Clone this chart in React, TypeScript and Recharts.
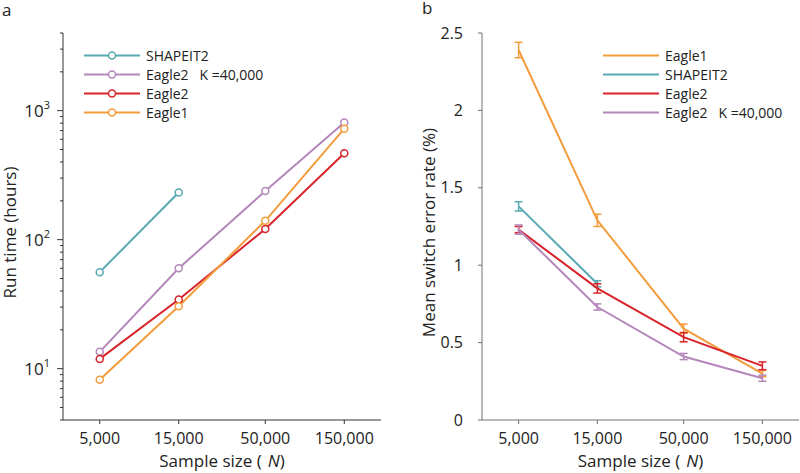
import React from "react";
import { LineChart, Line, XAxis, YAxis, ErrorBar, Legend } from "recharts";

// sample sizes shared by both panels (log x axis)
const sampleSizes = [5000, 15000, 50000, 150000];

// panel a: run time (hours)
const shapeit2Time = [56, 232];
const eagle2KTime = [13.5, 60, 238, 810];
const eagle2Time = [11.9, 34.4, 121, 468];
const eagle1Time = [8.2, 30.5, 140, 725];

// panel b: mean switch error rate (%) and error bar half-widths
const eagle1Err = [2.39, 1.29, 0.59, 0.3];
const eagle1ErrBar = [0.05, 0.04, 0.03, 0.02];
const shapeit2Err = [1.38, 0.88];
const shapeit2ErrBar = [0.03, 0.02];
const eagle2Err = [1.23, 0.85, 0.535, 0.35];
const eagle2ErrBar = [0.02, 0.03, 0.03, 0.025];
const eagle2KErr = [1.23, 0.73, 0.41, 0.27];
const eagle2KErrBar = [0.03, 0.02, 0.02, 0.02];

const logTicksA = [
  4, 5, 6, 7, 8, 9, 10, 20, 30, 40, 50, 60, 70, 80, 90, 100, 200, 300, 400, 500, 600, 700, 800,
  900, 1000, 2000, 3000, 4000,
];
const errTicks = [0, 0.5, 1, 1.5, 2, 2.5];

const TEAL = "#58a9b3";
const PURPLE = "#b487bb";
const RED = "#d8232b";
const ORANGE = "#f39c3c";

const toRows = (vals: number[], errs?: number[]) =>
  vals.map((v, i) => ({ n: sampleSizes[i], v, e: errs ? errs[i] : undefined }));

const seriesA = [
  { key: "shapeit2", label: "SHAPEIT2", color: TEAL, rows: toRows(shapeit2Time) },
  { key: "eagle2k", label: "Eagle2   K =40,000", color: PURPLE, rows: toRows(eagle2KTime) },
  { key: "eagle2", label: "Eagle2", color: RED, rows: toRows(eagle2Time) },
  { key: "eagle1", label: "Eagle1", color: ORANGE, rows: toRows(eagle1Time) },
];

const seriesB = [
  { key: "eagle1", label: "Eagle1", color: ORANGE, rows: toRows(eagle1Err, eagle1ErrBar) },
  { key: "shapeit2", label: "SHAPEIT2", color: TEAL, rows: toRows(shapeit2Err, shapeit2ErrBar) },
  { key: "eagle2", label: "Eagle2", color: RED, rows: toRows(eagle2Err, eagle2ErrBar) },
  { key: "eagle2k", label: "Eagle2   K =40,000", color: PURPLE, rows: toRows(eagle2KErr, eagle2KErrBar) },
];

const fmtN = (v: number) => v.toLocaleString("en-US");

function LogTick(props: any) {
  const { x, y, payload } = props;
  const exp = Math.log10(payload.value);
  const major = Math.abs(exp - Math.round(exp)) < 1e-9;
  return (
    <g>
      <line x1={x} x2={x - (major ? 6 : 3)} y1={y} y2={y} stroke="#333" strokeWidth={1} />
      {major && (
        <text x={x - 13} y={y + 6} textAnchor="end" fontSize={17} fill="#222">
          10
          <tspan dy={-8} fontSize={11}>
            {Math.round(exp)}
          </tspan>
        </text>
      )}
    </g>
  );
}

function LegendBox({ series, markers }: { series: typeof seriesA; markers: boolean }) {
  return (
    <div style={{ display: "flex", flexDirection: "column" }}>
      {series.map((s) => (
        <div key={s.key} style={{ height: 19, display: "flex", alignItems: "center" }}>
          <svg width={62} height={19}>
            <line x1={0} x2={56} y1={9.5} y2={9.5} stroke={s.color} strokeWidth={2} />
            {markers && (
              <circle cx={28} cy={9.5} r={3.5} fill="#fff" stroke={s.color} strokeWidth={1.5} />
            )}
          </svg>
          <span style={{ fontSize: 14, whiteSpace: "pre", color: "#222", lineHeight: "19px" }}>
            {s.label}
          </span>
        </div>
      ))}
    </div>
  );
}

function XLabel({ viewBox }: any) {
  return (
    <text x={viewBox.x + viewBox.width / 2} y={viewBox.y + 47} textAnchor="middle" fontSize={17} fill="#222">
      Sample size (
      <tspan dx={6} fontStyle="italic">
        N
      </tspan>
      )
    </text>
  );
}

function YLabel({ viewBox, value, dx }: any) {
  const cx = viewBox.x + dx;
  const cy = viewBox.y + viewBox.height / 2 + 6;
  return (
    <text x={cx} y={cy} transform={`rotate(-90, ${cx}, ${cy})`} textAnchor="middle" fontSize={17} fill="#222">
      {value}
    </text>
  );
}

export default function App() {
  return (
    <div
      style={{
        position: "absolute",
        left: 0,
        top: 0,
        width: 800,
        height: 473,
        background: "#fff",
        fontFamily: "'Open Sans', sans-serif",
        overflow: "hidden",
      }}
    >
      <div style={{ position: "absolute", left: 2, top: 1, fontSize: 17, lineHeight: "17px", color: "#222" }}>a</div>
      <div style={{ position: "absolute", left: 422, top: -1, fontSize: 17, lineHeight: "17px", color: "#222" }}>b</div>

      <div style={{ position: "absolute", left: 0, top: 0 }}>
        <LineChart width={400} height={473} margin={{ top: 33, right: 19, left: 0, bottom: 0 }}>
          <XAxis
            dataKey="n"
            type="number"
            scale="log"
            domain={[3000, 250000]}
            allowDataOverflow
            ticks={sampleSizes}
            tickFormatter={fmtN}
            height={53}
            tickSize={4}
            tickMargin={9}
            axisLine={{ stroke: "#333" }}
            tickLine={{ stroke: "#333" }}
            tick={{ fontSize: 16, fill: "#222" }}
            label={<XLabel />}
          />
          <YAxis
            type="number"
            scale="log"
            domain={[4, 4000]}
            allowDataOverflow
            ticks={logTicksA}
            interval={0}
            width={63}
            tickSize={0}
            tickMargin={0}
            tickLine={false}
            axisLine={{ stroke: "#333" }}
            tick={<LogTick />}
            label={<YLabel value="Run time (hours)" dx={16} />}
          />
          <Legend
            layout="horizontal"
            verticalAlign="middle"
            align="center"
            wrapperStyle={{ left: 84, top: 45.5, width: "auto" }}
            content={() => <LegendBox series={seriesA} markers />}
          />
          {seriesA.map((s) => (
            <Line
              key={s.key}
              data={s.rows}
              dataKey="v"
              name={s.label}
              stroke={s.color}
              strokeWidth={2}
              dot={{ r: 3.5, fill: "#fff", stroke: s.color, strokeWidth: 1.5 }}
              activeDot={false}
              isAnimationActive={false}
            />
          ))}
        </LineChart>
      </div>

      <div style={{ position: "absolute", left: 400, top: 0 }}>
        <LineChart width={400} height={473} margin={{ top: 33, right: 1, left: 0, bottom: 0 }}>
          <XAxis
            dataKey="n"
            type="number"
            scale="log"
            domain={[3000, 250000]}
            allowDataOverflow
            ticks={sampleSizes}
            tickFormatter={fmtN}
            height={53}
            tickSize={4}
            tickMargin={9}
            axisLine={{ stroke: "#707070" }}
            tickLine={{ stroke: "#707070" }}
            tick={{ fontSize: 16, fill: "#222" }}
            label={<XLabel />}
          />
          <YAxis
            type="number"
            domain={[0, 2.5]}
            allowDataOverflow
            ticks={errTicks}
            interval={0}
            width={82}
            tickSize={4}
            tickMargin={15}
            axisLine={{ stroke: "#707070" }}
            tickLine={{ stroke: "#707070" }}
            tick={{ fontSize: 16, fill: "#222" }}
            label={<YLabel value="Mean switch error rate (%)" dx={35} />}
          />
          <Legend
            layout="horizontal"
            verticalAlign="middle"
            align="center"
            wrapperStyle={{ left: 203, top: 45.5, width: "auto" }}
            content={() => <LegendBox series={seriesB} markers={false} />}
          />
          {seriesB.map((s) => (
            <Line
              key={s.key}
              data={s.rows}
              dataKey="v"
              name={s.label}
              stroke={s.color}
              strokeWidth={2}
              dot={false}
              activeDot={false}
              isAnimationActive={false}
            >
              <ErrorBar dataKey="e" direction="y" width={4} stroke={s.color} strokeWidth={1.5} />
            </Line>
          ))}
        </LineChart>
      </div>
    </div>
  );
}
